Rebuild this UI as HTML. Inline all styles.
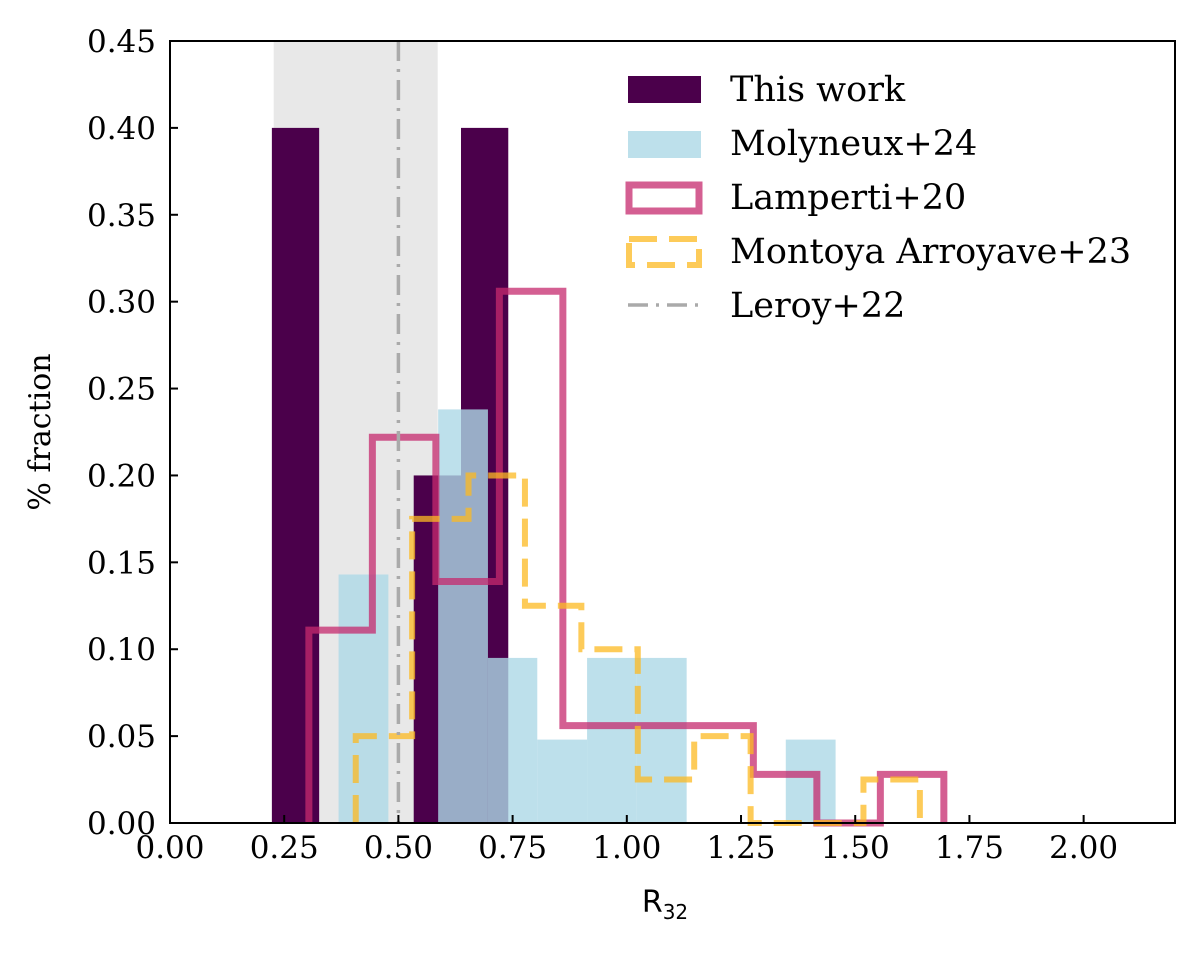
<!DOCTYPE html>
<html><head><meta charset="utf-8"><style>
body{margin:0;background:#fff}
svg text{font-family:"DejaVu Serif","Liberation Serif",serif;fill:#000}
</style></head><body>
<svg id="chart" width="1200" height="948" xmlns="http://www.w3.org/2000/svg">
<g id="plot"></g>
</svg>
<script>
const xTicks=[0,0.25,0.5,0.75,1.0,1.25,1.5,1.75,2.0];
const yTicks=[0,0.05,0.10,0.15,0.20,0.25,0.30,0.35,0.40,0.45];
const thisWorkEdges=[0.223,0.3265,0.43,0.5335,0.637,0.7405];
const thisWorkVals=[0.40,0,0,0.20,0.40];
const molyEdges=[0.369,0.478,0.587,0.696,0.804,0.913,1.022,1.131,1.24,1.348,1.457];
const molyVals=[0.143,0,0.238,0.095,0.048,0.095,0.095,0,0,0.048];
const lampEdges=[0.304,0.443,0.582,0.721,0.86,0.999,1.138,1.277,1.416,1.555,1.694];
const lampVals=[0.111,0.222,0.139,0.306,0.056,0.056,0.056,0.028,0,0.028];
const montEdges=[0.4066,0.530,0.6535,0.777,0.9005,1.024,1.1475,1.271,1.3945,1.518,1.6415];
const montVals=[0.05,0.175,0.20,0.125,0.10,0.025,0.05,0,0,0.025];
const leroyX=0.5, leroyLo=0.227, leroyHi=0.586;

const X0=170,X1=1175,Y0=823,Y1=41;
const sx=v=>X0+v*(X1-X0)/2.2;
const sy=v=>Y0-v*(Y0-Y1)/0.45;
const NS="http://www.w3.org/2000/svg";
const g=document.getElementById('plot');
function mk(t,a,p){const e=document.createElementNS(NS,t);for(const k in a)e.setAttribute(k,a[k]);(p||g).appendChild(e);return e;}

const band=mk('rect',{x:sx(leroyLo),y:Y1,width:sx(leroyHi)-sx(leroyLo),height:Y0-Y1,fill:'#e8e8e8'});



function bars(edges,vals,fill,op,name){
  vals.forEach((v,i)=>{ if(v<=0)return;
    const r=mk('rect',{x:sx(edges[i]),y:sy(v),width:sx(edges[i+1])-sx(edges[i]),height:Y0-sy(v),fill:fill,'fill-opacity':op});
    
    
  });
}
bars(thisWorkEdges,thisWorkVals,'#4b004b',1,'this-work');
bars(molyEdges,molyVals,'#add8e6',0.8,'molyneux');

function step(edges,vals){
  let d='M'+sx(edges[0])+','+Y0;
  vals.forEach((v,i)=>{d+=' L'+sx(edges[i])+','+sy(v)+' L'+sx(edges[i+1])+','+sy(v);});
  d+=' L'+sx(edges[edges.length-1])+','+Y0;
  return d;
}
const lamp=mk('path',{d:step(lampEdges,lampVals),fill:'none',stroke:'#c52a6e','stroke-opacity':0.75,'stroke-width':7});


const mont=mk('path',{d:step(montEdges,montVals),fill:'none',stroke:'#fcb922','stroke-opacity':0.75,'stroke-width':6,'stroke-dasharray':'28,12'});


const ler=mk('line',{x1:sx(leroyX),x2:sx(leroyX),y1:Y1,y2:Y0,stroke:'#aaa','stroke-width':3.5,'stroke-dasharray':'20,8,3,8'});



const frame=mk('rect',{x:X0,y:Y1,width:X1-X0,height:Y0-Y1,fill:'none',stroke:'#000','stroke-width':2});



xTicks.forEach(t=>{
  const l=mk('line',{x1:sx(t),x2:sx(t),y1:Y0,y2:Y0-8,stroke:'#000','stroke-width':2});
  
  
  const tx=mk('text',{x:sx(t),y:Y0+35,'text-anchor':'middle','font-size':31});
  tx.textContent=t.toFixed(2);
  
  
});
yTicks.forEach(t=>{
  const l=mk('line',{x1:X0,x2:X0+8,y1:sy(t),y2:sy(t),stroke:'#000','stroke-width':2});
  
  
  const tx=mk('text',{x:X0-14,y:sy(t)+11,'text-anchor':'end','font-size':31});
  tx.textContent=t.toFixed(2);
  
  
});
</script>
<svg style="position:absolute;left:0;top:0" width="1200" height="948" xmlns="http://www.w3.org/2000/svg">
<g><text x="50" y="432" font-size="30" text-anchor="middle" transform="rotate(-90 50 432)">% fraction</text></g>
<g><text x="665" y="912" font-size="30" text-anchor="middle" style="font-family:'DejaVu Sans','Liberation Sans',sans-serif">R<tspan font-size="20" dy="7">32</tspan></text></g>
<g>
 <g><rect x="628" y="76" width="73" height="27" fill="#4b004b"/><text x="730" y="101" font-size="35">This work</text></g>
 <g><rect x="628" y="131" width="73" height="27" fill="#add8e6" fill-opacity="0.8"/><text x="730" y="155" font-size="35">Molyneux+24</text></g>
 <g><rect x="629" y="185" width="70" height="26" fill="none" stroke="#c52a6e" stroke-opacity="0.75" stroke-width="7"/><text x="730" y="209" font-size="35">Lamperti+20</text></g>
 <g><rect x="629" y="239" width="70" height="26" fill="none" stroke="#fcb922" stroke-opacity="0.75" stroke-width="6" stroke-dasharray="28,12"/><text x="730" y="263" font-size="35">Montoya Arroyave+23</text></g>
 <g><line x1="628" x2="701" y1="305" y2="305" stroke="#aaa" stroke-width="3.5" stroke-dasharray="20,8,3,8"/><text x="730" y="317" font-size="35">Leroy+22</text></g>
</g>
</svg>
</body></html>
